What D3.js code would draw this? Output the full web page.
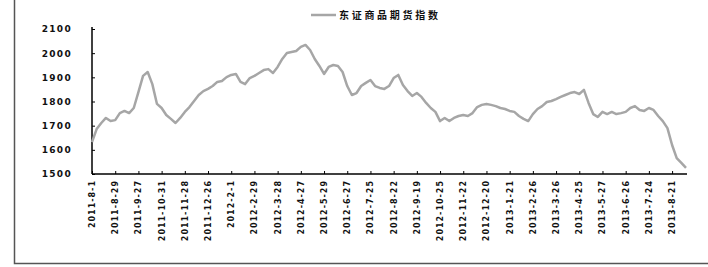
<!DOCTYPE html>
<html>
<head>
<meta charset="utf-8">
<script src="https://cdn.jsdelivr.net/npm/d3@7"></script>
<style>
  body { margin: 0; background: #fff; }
  svg text { font-family: "DejaVu Sans", "Noto Sans CJK SC", sans-serif; }
</style>
</head>
<body>
<div id="chart"></div>
<script>
// series name (legend)
var seriesName = "东证商品期货指数";

// one value every 4 trading days
var dayStep = 4;
var values = [
  1632, 1686, 1711, 1732, 1719, 1723, 1752, 1761, 1752, 1773,
  1839, 1906, 1922, 1872, 1790, 1773, 1744, 1728, 1711, 1732,
  1757, 1777, 1802, 1827, 1843, 1852, 1864, 1881, 1885, 1901,
  1910, 1914, 1881, 1872, 1897, 1906, 1918, 1930, 1934, 1918,
  1943, 1976, 2001, 2005, 2009, 2026, 2034, 2013, 1976, 1947,
  1914, 1943, 1951, 1947, 1922, 1864, 1827, 1835, 1864, 1877,
  1889, 1864, 1856, 1852, 1864, 1897, 1910, 1868, 1843, 1823,
  1835, 1819, 1794, 1773, 1757, 1719, 1732, 1719, 1732, 1740,
  1744, 1740, 1752, 1777, 1786, 1790, 1786, 1781, 1773, 1769,
  1761, 1757, 1740, 1728, 1719, 1748, 1769, 1781, 1798, 1802,
  1810, 1819, 1827, 1835, 1839, 1831, 1848, 1794, 1748, 1736,
  1757, 1748, 1757, 1748, 1752, 1757, 1773, 1781, 1765, 1761,
  1773, 1765, 1740, 1719, 1690, 1620, 1566, 1546, 1525
];

// date labels, one every 20 trading days
var tickStep = 20;
var tickLabels = [
  "2011-8-1", "2011-8-29", "2011-9-27", "2011-10-31", "2011-11-28",
  "2011-12-26", "2012-2-1", "2012-2-29", "2012-3-28", "2012-4-27",
  "2012-5-29", "2012-6-27", "2012-7-25", "2012-8-22", "2012-9-19",
  "2012-10-25", "2012-11-22", "2012-12-20", "2013-1-21", "2013-2-26",
  "2013-3-26", "2013-4-25", "2013-5-27", "2013-6-26", "2013-7-24",
  "2013-8-21"
];

var yTicks = [1500, 1600, 1700, 1800, 1900, 2000, 2100];

var width = 708, height = 267;
var plotLeft = 92, plotRight = 686, plotTop = 29, plotBottom = 174;

var svg = d3.select("#chart").append("svg")
  .attr("width", width)
  .attr("height", height);

// outer frame (left and bottom edge of the box)
svg.append("path")
  .attr("d", "M14.5,0V263.5H708")
  .attr("fill", "none")
  .attr("stroke", "#555")
  .attr("stroke-width", 1.5);

var lastDay = (values.length - 1) * dayStep;

var x = d3.scaleLinear()
  .domain([0, lastDay])
  .range([plotLeft, plotRight]);

var y = d3.scaleLinear()
  .domain([1500, 2100])
  .range([plotBottom, plotTop]);

// y axis
var yAxis = svg.append("g")
  .attr("transform", "translate(" + plotLeft + ",0)")
  .call(d3.axisRight(y).tickValues(yTicks).tickSize(3).tickFormat(d3.format("d")));
yAxis.select(".domain").attr("d", "M0," + (plotTop - 2) + "V" + plotBottom).attr("stroke-width", 1.5);
yAxis.selectAll("text")
  .attr("x", -20)
  .attr("text-anchor", "end")
  .attr("font-size", 9)
  .attr("font-weight", "bold")
  .attr("letter-spacing", 1.3)
  .attr("fill", "#111");

// x axis
var tickDays = tickLabels.map(function(d, i) { return i * tickStep; });
var xAxis = svg.append("g")
  .attr("transform", "translate(0," + plotBottom + ")")
  .call(d3.axisTop(x).tickValues(tickDays).tickSize(3).tickFormat(""));
xAxis.select(".domain").attr("d", "M" + plotLeft + ",0H" + (plotRight + 1)).attr("stroke-width", 1.5);

svg.append("g").selectAll("text")
  .data(tickLabels)
  .enter()
  .append("text")
  .attr("transform", function(d, i) {
    return "translate(" + (x(tickDays[i]) + 3) + "," + (plotBottom + 6) + ") rotate(-90)";
  })
  .attr("text-anchor", "end")
  .attr("font-size", 8)
  .attr("font-weight", "bold")
  .attr("letter-spacing", 1)
  .attr("fill", "#111")
  .text(function(d) { return d; });

// series line
var line = d3.line()
  .x(function(d, i) { return x(i * dayStep); })
  .y(function(d) { return y(d); });

svg.append("path")
  .datum(values)
  .attr("d", line)
  .attr("fill", "none")
  .attr("stroke", "#a6a6a6")
  .attr("stroke-width", 2.5)
  .attr("stroke-linejoin", "round");

// legend
svg.append("line")
  .attr("x1", 311).attr("x2", 336)
  .attr("y1", 15).attr("y2", 15)
  .attr("stroke", "#a6a6a6")
  .attr("stroke-width", 2.5);
svg.append("text")
  .attr("x", 339)
  .attr("y", 19)
  .attr("font-size", 10)
  .attr("font-weight", "bold")
  .attr("letter-spacing", 2.7)
  .attr("fill", "#111")
  .text(seriesName);
</script>
</body>
</html>
